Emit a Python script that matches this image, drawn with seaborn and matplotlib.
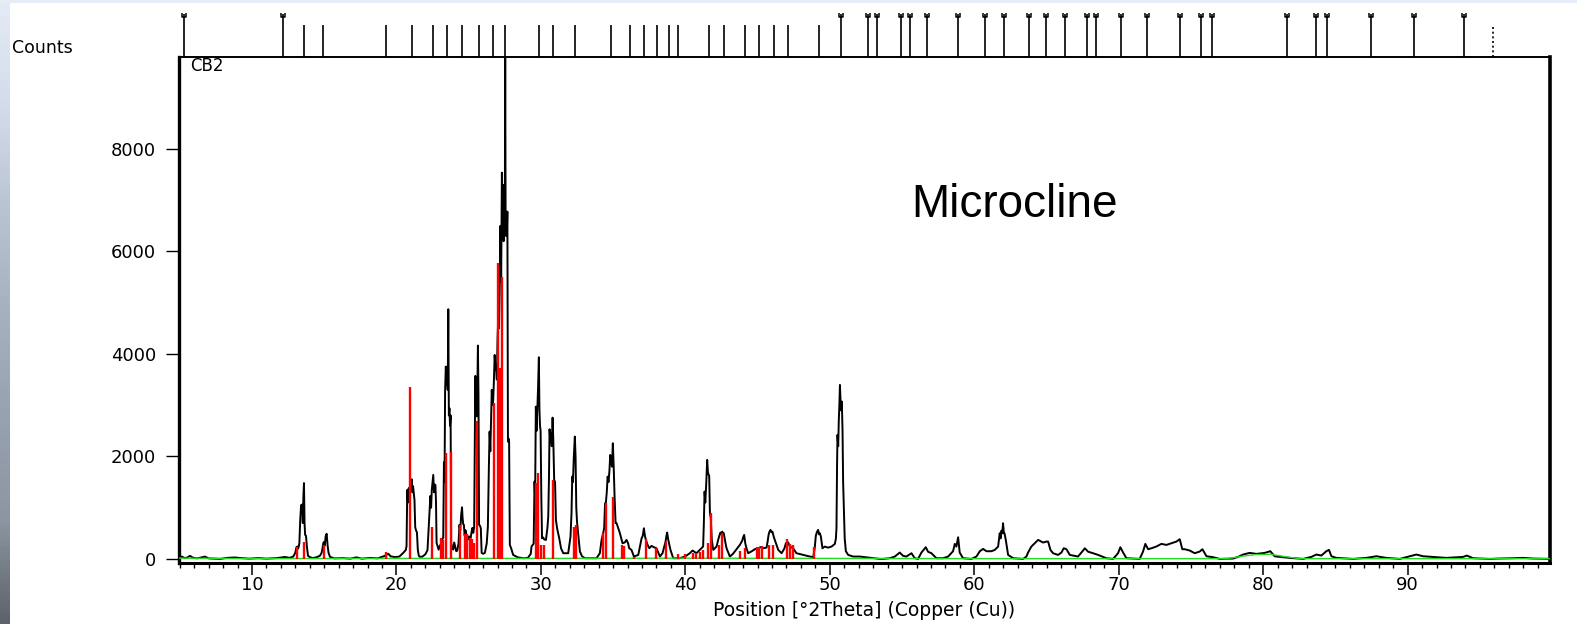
import numpy as np
import pandas as pd
import matplotlib
matplotlib.use("Agg")
import matplotlib.pyplot as plt
from matplotlib.path import Path
from matplotlib.colors import LinearSegmentedColormap
from matplotlib.ticker import MultipleLocator
import seaborn as sns

# ---- measured scan (2theta, counts) ----
scan_2theta = [
    4.95, 5.15, 5.35, 5.55, 5.71, 5.9, 6.2, 6.5, 6.75, 7.0, 7.4, 7.79, 8.3, 8.82, 9.28, 9.8,
    10.44, 11.0, 11.71, 12.28, 12.6, 12.86, 13.0,
    13.08, 13.14, 13.20, 13.28, 13.34, 13.40, 13.44, 13.48, 13.52, 13.56, 13.60, 13.64, 13.68,
    13.74, 13.80, 13.88, 13.97, 14.2, 14.5, 14.7,
    14.82, 14.88, 14.94, 14.98, 15.04, 15.10, 15.17, 15.24, 15.30, 15.40, 15.7, 16.3, 16.8,
    17.24, 17.6, 18.2, 18.7, 19.0, 19.2, 19.44, 19.6, 19.9, 20.2, 20.47, 20.65,
    20.70, 20.75, 20.80, 20.85, 20.90, 20.95, 21.00, 21.05, 21.10, 21.15, 21.20, 21.25, 21.30,
    21.36, 21.42, 21.48, 21.55, 21.63, 21.8, 22.0, 22.15,
    22.24, 22.30, 22.35, 22.40, 22.45, 22.50, 22.55, 22.60, 22.65, 22.70, 22.74, 22.78, 22.85,
    22.92, 23.0, 23.10, 23.18,
    23.24, 23.29, 23.33, 23.37, 23.42, 23.46, 23.50, 23.55, 23.59, 23.63, 23.67, 23.71, 23.75,
    23.79, 23.86, 23.93, 24.00, 24.06, 24.14, 24.21,
    24.30, 24.36, 24.42, 24.48, 24.54, 24.58, 24.62, 24.67, 24.72, 24.78, 24.84, 24.90, 24.96,
    25.02, 25.08, 25.14, 25.20, 25.26, 25.32,
    25.38, 25.42, 25.46, 25.50, 25.54, 25.58, 25.64, 25.68, 25.72, 25.78, 25.84, 25.90, 26.00,
    26.12, 26.25, 26.33,
    26.40, 26.45, 26.50, 26.55, 26.60, 26.65, 26.70, 26.75, 26.80, 26.85, 26.90, 26.95, 27.00,
    27.05, 27.10, 27.15, 27.20, 27.25, 27.30, 27.34, 27.38, 27.42, 27.46, 27.50, 27.53, 27.56,
    27.60, 27.64, 27.68, 27.72, 27.76, 27.80, 27.85, 27.95, 28.08, 28.4, 28.8, 29.1, 29.3, 29.35,
    29.50, 29.56, 29.60, 29.65, 29.70, 29.75, 29.80, 29.86, 29.90, 29.94, 29.98, 30.03, 30.08,
    30.15, 30.23, 30.35, 30.45, 30.51,
    30.56, 30.60, 30.65, 30.70, 30.75, 30.81, 30.86, 30.92, 30.98, 31.04, 31.12, 31.27, 31.40,
    31.55, 31.89, 32.05,
    32.12, 32.17, 32.22, 32.28, 32.35, 32.40, 32.45, 32.50, 32.58, 32.70, 32.85, 33.05, 33.85,
    34.08,
    34.20, 34.31, 34.38, 34.44, 34.50, 34.56, 34.62, 34.68, 34.74, 34.80, 34.86, 34.92, 34.98,
    35.04, 35.10, 35.17, 35.24, 35.35, 35.47, 35.56, 35.65, 35.80, 35.93, 36.04, 36.11, 36.27,
    36.44, 36.74, 36.97, 37.05, 37.13, 37.20, 37.27, 37.38, 37.50, 37.66, 37.80, 38.00, 38.24,
    38.42, 38.63, 38.69, 38.74, 38.81, 38.97, 39.16, 39.62, 40.0, 40.31, 40.50, 40.77, 41.00,
    41.23,
    41.28, 41.33, 41.38, 41.45, 41.51, 41.56, 41.60, 41.65, 41.70, 41.76, 41.83, 41.93, 42.16,
    42.27, 42.35, 42.43, 42.49, 42.55, 42.61, 42.66, 42.75, 42.85, 43.08, 43.30, 43.54, 43.77,
    43.93, 44.00, 44.07, 44.15, 44.23, 44.35, 44.60, 44.81, 45.04, 45.20, 45.39, 45.62, 45.70,
    45.76, 45.82, 45.89, 45.96, 46.03, 46.10, 46.19, 46.43, 46.66, 46.85, 46.96, 47.05, 47.12,
    47.23, 47.46, 47.69, 48.15, 48.62, 48.85, 48.95, 49.03, 49.10, 49.19, 49.25, 49.31, 49.38,
    49.49, 49.65, 49.88, 50.12, 50.35,
    50.42, 50.46, 50.50, 50.53, 50.58, 50.62, 50.66, 50.70, 50.74, 50.78, 50.83, 50.88, 50.92,
    50.97, 51.03, 51.11, 51.27, 51.61, 52.07, 52.54, 53.00, 53.46, 53.69, 54.15, 54.50, 54.84,
    55.07, 55.30, 55.65, 55.88, 56.11, 56.34, 56.50, 56.64, 56.80, 57.03, 57.38, 57.84, 58.19,
    58.53, 58.65, 58.76, 58.88, 58.99, 59.22, 59.80, 60.15, 60.38, 60.61, 60.84, 61.19, 61.42,
    61.65, 61.76, 61.82, 61.88, 61.94, 61.99, 62.05, 62.09, 62.18, 62.34, 62.69, 63.38, 63.61,
    63.72, 63.95, 64.18, 64.42, 64.76, 64.99, 65.11, 65.27, 65.45, 65.80, 66.03, 66.19, 66.38,
    66.61, 67.18, 67.53, 67.65, 67.88, 68.22, 68.57, 69.14, 69.61, 69.95, 70.11, 70.30, 70.53,
    71.45, 71.68, 71.84, 72.03, 72.26, 72.60, 72.95, 73.30, 73.64, 73.99, 74.22, 74.40, 74.57,
    74.91, 75.26, 75.60, 75.79, 76.07, 76.53, 76.99, 77.91, 78.26, 78.60, 79.06, 79.53, 80.10,
    80.49, 80.79, 81.14, 81.83, 82.76, 83.33, 83.68, 84.02, 84.37, 84.55, 84.72, 85.06, 86.22,
    87.14, 87.83, 88.52, 89.45, 90.14, 90.60, 91.06, 91.75, 92.67, 93.83, 94.10, 94.52, 95.67,
    96.36, 97.29, 97.98, 98.67, 99.60, 99.85,
]
scan_counts = [
    25, 45, 15, 30, 60, 25, 10, 30, 45, 10, 5, 0, 20, 28, 15, 5,
    15, 5, 15, 38, 20, 45, 120,
    230, 240, 200, 300, 750, 1050, 980, 1060, 700, 1200, 1480, 700, 470,
    450, 250, 60, 40, 15, 35, 60,
    117, 200, 310, 330, 260, 440, 490, 250, 120, 40, 10, 15, 5,
    30, 5, 20, 10, 40, 60, 100, 50, 35, 45, 117, 175,
    250, 1346, 1100, 1380, 1250, 1500, 1400, 1555, 1300, 1420, 1294, 1150, 620,
    553, 520, 180, 60, 40, 45, 90, 170,
    630, 900, 1229, 1000, 1350, 1500, 1639, 1300, 1450, 1444, 1100, 312, 250,
    180, 250, 300, 380,
    420, 1886, 1500, 3300, 3753, 3400, 3700, 3300, 4872, 2800, 2940, 2600, 2800,
    312, 200, 182, 320, 247, 150, 160,
    300, 663, 560, 850, 1007, 800, 680, 663, 460, 560, 470, 420, 380,
    440, 377, 410, 520, 605, 508,
    620, 2100, 3571, 2900, 3300, 2780, 4163, 3200, 663, 650, 600, 117, 100,
    117, 300, 630,
    1800, 2484, 2100, 2700, 3298, 3000, 3100, 3500, 3980, 3700, 3753, 3500, 4300,
    4694, 4500, 5300, 6500, 5400, 7538, 6600, 7300, 6200, 6900, 6300, 9900, 6400,
    6777, 6300, 6777, 2289, 2350, 2289, 273, 200, 78, 30, 13, 20, 100, 241,
    300, 1509, 1200, 2972, 2500, 2900, 3300, 3935, 2900, 2595, 2500, 1200, 402,
    420, 380, 370, 600, 826,
    1600, 2530, 2300, 2450, 2200, 2757, 2300, 1541, 1500, 761, 600, 402, 200,
    111, 111, 436,
    900, 1606, 1500, 2000, 2387, 2000, 1000, 728, 500, 143, 50, 13, 13,
    111,
    370, 501, 600, 1086, 1100, 1300, 1606, 1500, 1700, 2029, 1900, 1800, 2257,
    1800, 1216, 700, 696, 600, 501, 400, 306, 320, 370, 300, 208, 176,
    46, 78, 402, 450, 598, 450, 370, 280, 208, 254, 230, 208, 46,
    111, 338, 450, 514, 380, 176, 13, 13, 50, 111, 163, 111, 176,
    241,
    700, 1314, 1100, 1500, 1932, 1700, 1650, 1620, 891, 800, 370, 176, 241,
    370, 450, 514, 480, 533, 500, 501, 350, 208, 46, 100, 189, 273,
    351, 420, 468, 300, 208, 111, 150, 189, 208, 230, 208, 220, 350,
    468, 530, 566, 520, 533, 450, 370, 176, 111, 200, 306, 330, 320,
    241, 208, 111, 78, 46, 33, 200, 449, 520, 566, 480, 500, 436,
    208, 241, 220, 241, 293,
    400, 598, 1800, 2420, 2200, 2700, 3000, 3395, 3100, 2900, 3070, 2500, 1500,
    1021, 400, 150, 78, 46, 46, 30, 13, 0, 0, 13, 46, 124,
    60, 46, 111, 13, 0, 124, 180, 228, 140, 111, 13, 13, 46,
    150, 293, 240, 423, 124, 13, 0, 46, 150, 195, 150, 150, 176,
    241, 501, 400, 553, 500, 696, 500, 501, 371, 78, 13, 0, 46,
    124, 241, 306, 371, 319, 338, 338, 176, 111, 78, 124, 208, 189,
    78, 46, 163, 208, 140, 111, 78, 13, 0, 111, 228, 124, 13,
    0, 143, 293, 189, 208, 241, 293, 273, 306, 338, 384, 189, 189,
    163, 111, 143, 189, 52, 33, 0, 7, 39, 85, 117, 98, 117,
    150, 52, 39, 20, 0, 39, 85, 65, 150, 176, 52, 20, 0,
    20, 52, 20, 0, 52, 85, 52, 39, 20, 39, 65, 13, 0,
    7, 13, 20, 7, 0, 0,
]

# ---- fitted background ----
bg_2theta = [4.95, 10, 20, 30, 40, 50, 60, 70, 77.5, 78.5, 79.5, 80.5, 81.5, 82.5, 90, 99.85]
bg_counts = [15, 5, 10, 10, 15, 10, 5, 5, 5, 50, 85, 90, 45, 5, 5, 5]

# ---- reference pattern sticks (Microcline) ----
ref_2theta = [
    13.14, 13.60, 14.98, 19.27, 20.91, 22.43, 23.06, 23.20, 23.43, 23.75, 24.39, 24.74, 24.90,
    25.09, 25.20, 25.36, 25.59, 26.72, 27.02, 27.14, 27.33, 29.66, 29.82, 29.98, 30.23, 30.85,
    32.28, 32.42, 34.31, 34.50, 35.01, 35.58, 35.74, 36.46, 37.31, 38.00, 38.63, 39.46, 39.96,
    40.50, 40.77, 41.00, 41.19, 41.58, 41.77, 42.34, 42.57, 43.77, 44.12, 44.93, 45.11, 45.29,
    45.80, 46.08, 47.05, 47.23, 47.46, 48.92,
]
ref_counts = [
    228, 338, 273, 143, 3350, 631, 400, 370, 2070, 2090, 663, 480, 481,
    403, 384, 312, 2700, 3040, 5780, 3730, 5510, 1490, 1672, 273, 273, 1541,
    631, 663, 501, 1086, 1203, 273, 254, 46, 384, 208, 338, 91, 91,
    111, 111, 143, 176, 306, 891, 273, 501, 163, 208, 228, 228, 260,
    273, 273, 390, 293, 273, 228,
]

# ---- peak list shown above the plot ----
peak_pos = [
    5.31, 12.12, 13.60, 14.93, 19.27, 21.09, 22.51, 23.52, 24.55, 25.71, 26.66, 27.54, 29.85,
    30.86, 32.36, 34.84, 36.17, 37.17, 38.01, 38.84, 39.48, 41.63, 42.65, 44.13, 45.09, 46.11,
    47.11, 49.28, 50.75, 52.62, 53.26, 54.93, 55.52, 56.71, 58.86, 60.71, 62.03, 63.81, 64.97,
    66.30, 67.81, 68.42, 70.15, 71.95, 74.24, 75.71, 76.48, 81.65, 83.63, 84.42, 87.48, 90.44,
    93.88, 95.90,
]
peak_kind = (["mark", "mark"] + ["line"] * 26 + ["mark"] * 25 + ["dotted"])

x_ticks = [10, 20, 30, 40, 50, 60, 70, 80, 90]
y_ticks = [0, 2000, 4000, 6000, 8000]

W, H = 1577, 624
sns.set_style("white")
plt.rcParams["font.family"] = ["DejaVu Sans"]
plt.rcParams["text.color"] = "black"
plt.rcParams["axes.labelcolor"] = "black"
plt.rcParams["xtick.color"] = "black"
plt.rcParams["ytick.color"] = "black"
fig = plt.figure(figsize=(W / 100, H / 100), dpi=100)
fig.patch.set_facecolor("white")


def px_box(left, top, right, bottom):
    return [left / W, 1 - bottom / H, (right - left) / W, (bottom - top) / H]


# slide backdrop strip on the left edge and the top edge
strip = fig.add_axes(px_box(0, 0, 10, H))
cmap = LinearSegmentedColormap.from_list(
    "bk", ["#e4ebf6", "#d3dcea", "#b9c4d3", "#a6b1c0", "#97a2b0", "#8d96a2", "#5d636b"])
strip.imshow(np.linspace(0, 1, 200)[:, None], aspect="auto", cmap=cmap)
strip.set_axis_off()
top_band = fig.add_axes(px_box(0, 0, W, 3))
top_band.set_axis_off()
top_band.add_patch(plt.Rectangle((0, 0), 1, 1, transform=top_band.transAxes,
                                 color="#e6edf7", lw=0))

ax = fig.add_axes(px_box(179, 57, 1550, 563))
ax.set_facecolor("white")

sns.lineplot(x=scan_2theta, y=scan_counts, ax=ax, color="black", lw=1.4,
             estimator=None, sort=False, zorder=2)
sns.lineplot(x=bg_2theta, y=bg_counts, ax=ax, color="#22dd22", lw=1.0,
             estimator=None, sort=False, zorder=3)
ax.vlines(ref_2theta, 0, ref_counts, colors="#ff0000", lw=1.7, zorder=4)

ax.set_xlim(4.95, 99.85)
ax.set_ylim(-80, 9795)
ax.set_xticks(x_ticks)
ax.set_xticklabels([str(v) for v in x_ticks])
ax.xaxis.set_minor_locator(MultipleLocator(1))
ax.set_yticks(y_ticks)
ax.set_yticklabels([str(v) for v in y_ticks])
ax.set_xlabel("")
ax.set_ylabel("")
ax.tick_params(axis="x", which="major", direction="out", length=8.6, width=1.1,
               labelsize=13, pad=1, bottom=True, colors="black")
ax.tick_params(axis="x", which="minor", direction="out", length=3.6, width=1.0,
               bottom=True, colors="black")
ax.tick_params(axis="y", which="major", direction="out", length=9.5, width=1.0,
               labelsize=13, pad=7, left=True, colors="black")
for side, lw in (("left", 2.4), ("bottom", 2.2), ("right", 2.6), ("top", 1.4)):
    ax.spines[side].set_visible(True)
    ax.spines[side].set_linewidth(lw)
    ax.spines[side].set_color("black")

# peak list ticks above the frame
ax_top = fig.add_axes(px_box(179, 10, 1550, 57), sharex=ax)
ax_top.set_ylim(0, 47)
ax_top.set_axis_off()
ax_top.patch.set_alpha(0)
pos = np.array(peak_pos)
kind = np.array(peak_kind)
ax_top.vlines(pos[kind == "line"], 0, 32, colors="black", lw=1.2)
ax_top.vlines(pos[kind == "mark"], 0, 43, colors="black", lw=1.2)
ax_top.vlines(pos[kind == "dotted"], 0, 32, colors="black", lw=1.2,
              linestyles=(0, (1.2, 1.6)))
cup = Path([(-1, 1), (-1, -1), (1, -1), (1, 1)],
           [Path.MOVETO, Path.LINETO, Path.LINETO, Path.LINETO])
ax_top.plot(pos[kind == "mark"], np.full((kind == "mark").sum(), 42.5), ls="none",
            marker=cup, ms=3.4, mew=1.1, mfc="none", mec="black", clip_on=False)

fig.text(12 / W, 1 - 48 / H, "Counts", fontsize=12.5, ha="left", va="center",
         color="black")
fig.text(190 / W, 1 - 66 / H, "CB2", fontsize=12, ha="left", va="center", color="black")
fig.text(911 / W, 1 - 217 / H, "Microcline", fontsize=33, family="Liberation Sans",
         ha="left", va="baseline", color="black")
fig.text(864 / W, 1 - 611 / H, "Position [°2Theta] (Copper (Cu))", fontsize=13.5,
         ha="center", va="center", color="black")

fig.savefig("out.png", dpi=100, facecolor="white")
